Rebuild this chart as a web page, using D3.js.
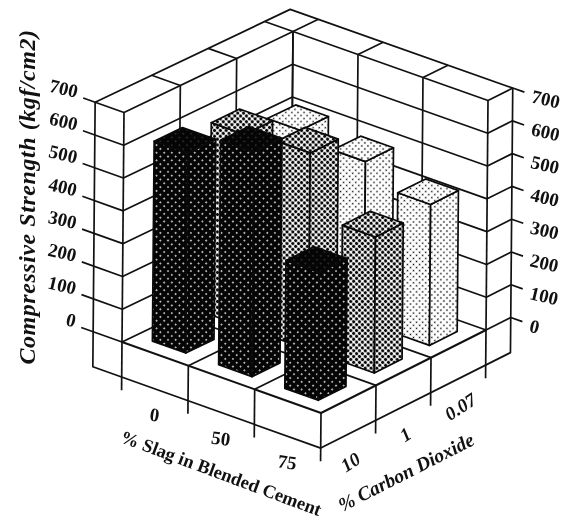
<!DOCTYPE html>
<html><head><meta charset="utf-8">
<script src="https://cdn.jsdelivr.net/npm/d3@7"></script>
<style>html,body{margin:0;padding:0;background:#fff}svg{display:block;filter:blur(0.35px)}
text{font-family:"Liberation Serif","Times New Roman",serif;font-weight:700;fill:#111}</style>
</head><body><script>
const slagLabels=["0","50","75"];
const co2Labels=["10","1","0.07"];
const strengthTicks=[0,100,200,300,400,500,600,700];
const strengthCO2_10=[610,685,390];
const strengthCO2_1=[585,600,415];
const strengthCO2_007=[515,490,430];
const yTitle="Compressive Strength (kgf/cm2)";
const slagTitle="% Slag in Blended Cement";
const co2Title="% Carbon Dioxide";
const series=[strengthCO2_10,strengthCO2_1,strengthCO2_007];
const W=567,H=519;
const svg=d3.select("body").append("svg").attr("width",W).attr("height",H);
const defs=svg.append("defs");
function pat(id,bg,fg,size,r){
  const p=defs.append("pattern").attr("id",id).attr("width",size).attr("height",size)
    .attr("patternUnits","userSpaceOnUse").attr("patternTransform","rotate(45)");
  p.append("rect").attr("width",size).attr("height",size).attr("fill",bg);
  p.append("circle").attr("cx",size/2).attr("cy",size/2).attr("r",r).attr("fill",fg);
}
pat("p0","#050505","#fff",5.4,0.85);
pat("p0t","#050505","#bbb",5.4,0.45);
pat("p1","#fff","#0a0a0a",4.1,1.65);
pat("p2","#fff","#111",4.3,0.85);
// floor corners: A left, F front, R right, B back
const xA=d3.scaleLinear().domain([0,1]).range([122,321]); // v=0 edge
const yA=d3.scaleLinear().domain([0,1]).range([342,413]);
const xB=d3.scaleLinear().domain([0,1]).range([291,486]); // v=1 edge
const yB=d3.scaleLinear().domain([0,1]).range([261,330]);
const zY=d3.scaleLinear().domain([0,700]).range([0,-229.5]);
const zX=d3.scaleLinear().domain([0,700]).range([0,2]);
function P(u,v,z){
  const x=xA(u)+(xB(u)-xA(u))*v, y=yA(u)+(yB(u)-yA(u))*v;
  return [x+zX(z),y+zY(z)];
}
const line=d3.line();
const g=svg.append("g").attr("fill","none").attr("stroke","#111").attr("stroke-linejoin","round");
const seg=(pts,w)=>g.append("path").attr("d",line(pts)).attr("stroke-width",w||1.7);
const oL=-0.145,oR=1.15,zBase=-107,zTick=-147,zTop=700;
// wall gridlines and frame
strengthTicks.forEach(t=>{
  seg([P(oL-0.06,0,t),P(0,0,t),P(0,1,t),P(1,1,t),P(1,oR,t),P(1.06,oR,t)]);
});
[1/3,2/3,1].forEach(k=>seg([P(0,k,0),P(0,k,zTop),P(oL,k,zTop)]));
[0,1/3,2/3].forEach(k=>seg([P(k,1,0),P(k,1,zTop),P(k,oR,zTop)]));
seg([P(oL,0,zTop),P(oL,oR,zTop),P(1,oR,zTop)]);
seg([P(oL,0,zTop),P(oL,0,zBase),P(1,0,zBase),P(1,oR,zBase),P(1,oR,zTop)]);
seg([P(0,0,zTop),P(0,0,zTick)]);
seg([P(1,1,zTop),P(1,1,zTick)]);
// floor grid and category ticks
[1/3,2/3].forEach(k=>{seg([P(k,0,0),P(k,1,0)]);seg([P(0,k,0),P(1,k,0)]);});
seg([P(0,0,0),P(1,0,0),P(1,1,0)],2);
[1/3,2/3,1].forEach(k=>seg([P(k,0,0),P(k,0,zTick)]));
[1/3,2/3].forEach(k=>seg([P(1,k,0),P(1,k,zTick)]));
// bars
const hw=0.084;
const bars=[];
series.forEach((vals,j)=>vals.forEach((val,i)=>bars.push({i,j,val})));
bars.sort((a,b)=>(a.i-a.j)-(b.i-b.j));
const gb=svg.append("g").attr("stroke","#0a0a0a").attr("stroke-width",1.7).attr("stroke-linejoin","round");
bars.forEach(b=>{
  const u=(b.i+.5)/3+(b.j>0?0.005:0),v=(b.j+.5)/3,u0=u-hw,u1=u+hw,v0=v-hw,v1=v+hw,z=b.val;
  const f="url(#p"+b.j+")",ft=b.j===0?"url(#p0t)":f;
  gb.append("path").attr("fill",f).attr("d",line([P(u0,v0,0),P(u1,v0,0),P(u1,v0,z),P(u0,v0,z)])+"Z");
  gb.append("path").attr("fill",f).attr("d",line([P(u1,v0,0),P(u1,v1,0),P(u1,v1,z),P(u1,v0,z)])+"Z");
  gb.append("path").attr("fill",ft).attr("d",line([P(u0,v0,z),P(u1,v0,z),P(u1,v1,z),P(u0,v1,z)])+"Z");
});
// texts
function T(txt,x,y,rot,size,opt){
  opt=opt||{};
  const t=svg.append("text").text(txt).attr("transform",`translate(${x},${y}) rotate(${rot})`)
    .attr("font-size",size).attr("text-anchor",opt.anchor||"middle")
    .attr("font-style",opt.italic?"italic":"normal");
  if(opt.ls) t.attr("letter-spacing",opt.ls);
  return t;
}
strengthTicks.forEach(t=>{
  const [x,y]=P(oL-0.06,0,t);
  T(String(t),x-7,y,13,19,{anchor:"end"});
  const [x2,y2]=P(1.06,oR,t);
  T(String(t),x2+6,y2+10,13,19,{anchor:"start"});
});
T(yTitle,35,197,-90,24,{italic:true,ls:0.55});
slagLabels.forEach((s,i)=>{
  const [x,y]=P((i+.5)/3,0,-190);
  T(s,x-1,y+5,8,19);
});
co2Labels.forEach((s,j)=>{
  const [x,y]=P(1,(j+.5)/3,-190);
  T(s,x+6,y+6,-33,19,{italic:true});
});
T(slagTitle,219,479,20.5,18.5);
T(co2Title,409,478,-27,19.5,{italic:true});
</script></body></html>
